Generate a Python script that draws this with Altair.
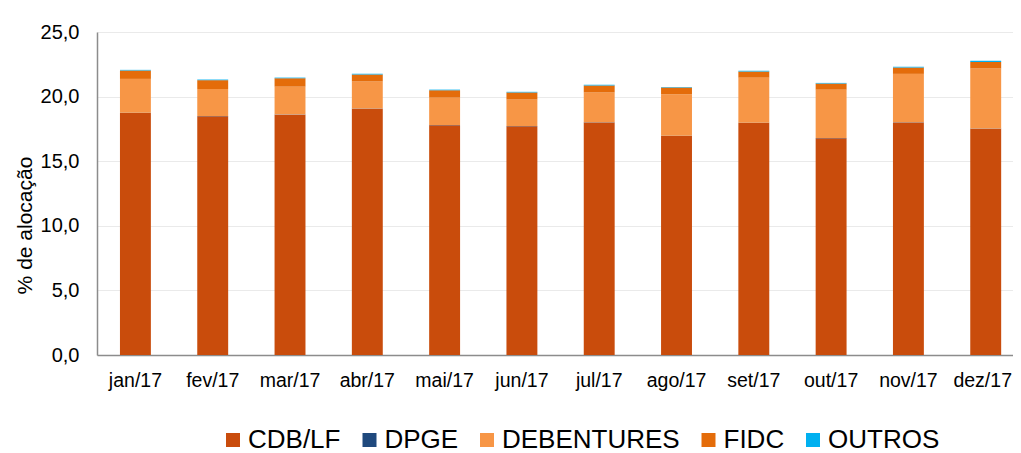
import altair as alt
import pandas as pd

months = ["jan/17", "fev/17", "mar/17", "abr/17", "mai/17", "jun/17",
          "jul/17", "ago/17", "set/17", "out/17", "nov/17", "dez/17"]
series = ["CDB/LF", "DPGE", "DEBENTURES", "FIDC", "OUTROS"]
colors = ["#C94C0C", "#1F497D", "#F79646", "#E46C0A", "#00B0F0"]

cdb_lf = [18.73, 18.48, 18.60, 19.05, 17.78, 17.70, 18.00, 16.95, 17.96, 16.77, 17.99, 17.52]
dpge = [0.02, 0.02, 0.02, 0.02, 0.02, 0.02, 0.02, 0.02, 0.02, 0.02, 0.02, 0.02]
debentures = [2.62, 2.09, 2.15, 2.09, 2.12, 2.05, 2.29, 3.21, 3.49, 3.75, 3.75, 4.63]
fidc = [0.65, 0.68, 0.65, 0.56, 0.57, 0.55, 0.54, 0.52, 0.47, 0.47, 0.49, 0.50]
outros = [0.05, 0.05, 0.05, 0.05, 0.05, 0.05, 0.07, 0.05, 0.06, 0.05, 0.06, 0.10]

values = [cdb_lf, dpge, debentures, fidc, outros]
rows = []
for si, (name, vals) in enumerate(zip(series, values)):
    for m, v in zip(months, vals):
        rows.append({"mes": m, "serie": name, "valor": v, "ordem": si})
df = pd.DataFrame(rows)

FONT = "Liberation Sans"

chart = alt.Chart(df).mark_bar().encode(
    x=alt.X("mes:N", sort=months, title=None,
            scale=alt.Scale(paddingInner=0.6, paddingOuter=0.225, align=0.66),
            axis=alt.Axis(labelAngle=0, labelFont=FONT, labelFontSize=19.5,
                          labelColor="#000000", labelPadding=16, ticks=False,
                          labelOffset={"condition": {"test": f"datum.value == '{months[-1]}'",
                                                     "value": -3},
                                       "value": 0},
                          domainColor="#8C8C8C", domainWidth=1.5, grid=False)),
    y=alt.Y("valor:Q", stack="zero", title="% de alocação",
            scale=alt.Scale(domain=[0, 25], nice=False),
            axis=alt.Axis(values=[0, 5, 10, 15, 20, 25],
                          labelExpr="replace(format(datum.value, '.1f'), '.', ',')",
                          labelFont=FONT, labelFontSize=20, labelColor="#000000",
                          labelPadding=18, ticks=False,
                          domainColor="#8C8C8C", domainWidth=1.5,
                          gridColor="#EAEAEA", gridWidth=1.2,
                          titleFont=FONT, titleFontSize=21, titleFontWeight="normal",
                          titleColor="#000000", titleX=-72, titleY=193,
                          titleAngle=270, titleAlign="center", titleBaseline="middle")),
    color=alt.Color("serie:N", sort=series,
                    scale=alt.Scale(domain=series, range=colors),
                    legend=alt.Legend(title=None, orient="none", direction="horizontal",
                                      legendX=123, legendY=395,
                                      symbolType="square", symbolSize=196,
                                      symbolStrokeWidth=0, symbolOpacity=1,
                                      labelFont=FONT, labelFontSize=26,
                                      labelColor="#000000", labelOffset=2,
                                      columnPadding=15.5, labelLimit=400, padding=0)),
    order=alt.Order("ordem:Q", sort="ascending"),
).properties(
    width=916, height=323,
    autosize=alt.AutoSizeParams(type="none"),
    padding={"left": 89, "top": 24, "right": 0, "bottom": 98},
).configure_view(stroke=None)

chart.save("out.html", embed_options={"renderer": "svg", "actions": False})
